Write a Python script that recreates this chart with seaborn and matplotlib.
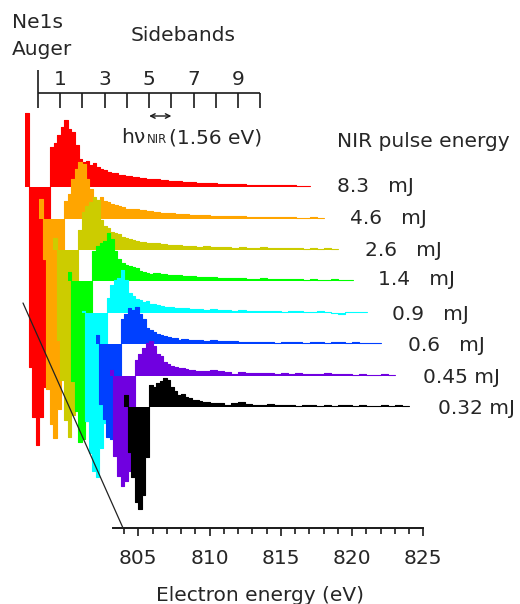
import numpy as np
import matplotlib
matplotlib.use("Agg")
import matplotlib.pyplot as plt
from matplotlib.ticker import FixedLocator
import seaborn as sns

# ---------------- data ----------------
pulse_labels = ["0.32 mJ", "0.45 mJ", "0.6   mJ", "0.9   mJ",
                "1.4   mJ", "2.6   mJ", "4.6   mJ", "8.3   mJ"]
colors = ["#000000", "#7000E0", "#0040FF", "#00FFFF",
          "#00FF00", "#CCCC00", "#FFA500", "#FF0000"]

# relative energy bin edges (eV) of each spectrum
bin_edges_rel = np.concatenate([np.arange(0, 6, 0.25), np.arange(6, 20.001, 0.5)])

s032 = [12, -45, -70, -95, -102, -88, -50, 22, 20, 24, 26, 29, 27, 20, 16, 12, 13, 10, 9, 7, 7, 6, 5, 5,
        4, 4, 2, 4, 5, 3, 2, 2, 3, 2, 2, 2, 1, 2, 2, 1, 2, 1, 2, 2, 1, 2, 1, 1, 2, 1, 2, 1]
s045 = [6, -80, -100, -110, -105, -95, -60, 16, 22, 28, 33, 35, 30, 22, 20, 14, 12, 10, 9, 8, 8, 7, 6, 6,
        5, 5, 6, 5, 4, 2, 4, 3, 3, 3, 3, 2, 3, 2, 3, 2, 2, 2, 3, 2, 2, 2, 1, 2, 1, 1, 2, 1]
s06 = [9, -60, -75, -93, -95, -90, -60, 25, 30, 36, 34, 37, 30, 25, 16, 14, 12, 10, 9, 8, 7, 6, 6, 4,
       5, 4, 4, 3, 4, 3, 3, 3, 2, 2, 2, 2, 2, 1, 2, 2, 2, 1, 2, 2, 1, 2, 2, 1, 2, 1, 1, 1]
s09 = [2, -108, -140, -158, -164, -135, -110, 15, 28, 33, 35, 43, 33, 20, 17, 14, 13, 11, 12, 9, 9, 8, 7, 6,
       6, 5, 5, 4, 4, 3, 4, 3, 3, 2, 3, 2, 2, 2, 2, 2, 1, 2, 2, 1, 1, 2, 1, 0, -1, 1, 1, 1]
s14 = [9, -100, -130, -161, -158, -140, -110, 30, 35, 38, 40, 48, 42, 30, 22, 18, 16, 15, 14, 13, 10, 9, 8, 7,
       8, 7, 6, 6, 5, 5, 4, 4, 4, 3, 3, 3, 3, 2, 2, 3, 2, 2, 2, 2, 2, 1, 2, 1, 1, 2, 1, 1]
s26 = [12, -90, -130, -170, -187, -165, -130, 20, 38, 44, 48, 53, 50, 30, 24, 22, 18, 17, 16, 13, 12, 11, 10, 9,
       8, 7, 7, 6, 5, 5, 4, 4, 3, 4, 3, 3, 3, 2, 3, 2, 2, 3, 2, 2, 2, 2, 2, 1, 2, 1, 2, 1]
s46 = [20, -40, -170, -205, -219, -190, -150, 18, 25, 40, 50, 57, 55, 40, 30, 20, 19, 22, 18, 17, 15, 14, 13, 12,
       10, 10, 9, 8, 7, 6, 6, 5, 5, 4, 4, 4, 3, 3, 3, 3, 3, 2, 2, 2, 2, 2, 2, 2, 1, 1, 2, 1]
s83 = [74, -180, -230, -258, -230, -200, -150, 40, 44, 52, 60, 67, 58, 55, 42, 28, 25, 26, 22, 24, 20, 18, 17, 15,
       14, 12, 11, 10, 9, 8, 8, 7, 6, 6, 5, 5, 4, 4, 4, 3, 3, 3, 3, 2, 2, 2, 2, 2, 2, 2, 1, 1]
spectra = [s032, s045, s06, s09, s14, s26, s46, s83]

sideband_labels = ["1", "3", "5", "7", "9"]
photon_energy = 1.56  # eV

E_START = 804.0   # start of the lowest spectrum (eV)
DX = -0.992       # waterfall shift per spectrum (eV)
DY = 31.4         # waterfall shift per spectrum (intensity units)

# ---------------- layout helpers (pixel -> data) ----------------
W, H = 520, 604
PX_PER_EV = 14.25
def dxp(px):
    return 805 + (px - 138.3) / PX_PER_EV
def dyp(py):
    return 407 - py

sns.set_theme(style="white")
plt.rcParams["font.family"] = ["DejaVu Sans"]
FS = 14.5

fig = plt.figure(figsize=(W / 100, H / 100), dpi=100)
ax = fig.add_axes([0, 0, 1, 1])
ax.set_xlim(dxp(0), dxp(W))
ax.set_ylim(dyp(H), dyp(0))
ax.patch.set_alpha(0)

for k, (vals, c) in enumerate(zip(spectra, colors)):
    x = E_START + DX * k + bin_edges_rel
    base = DY * k
    y = base + np.append(vals, vals[-1])
    ax.fill_between(x, base, y, step="post", color=c, lw=0, zorder=10 - k)
    sns.lineplot(x=x, y=y, drawstyle="steps-post", color=c, lw=0.8,
                 zorder=10 - k, ax=ax)

# pulse energy labels
label_pos = [(438, 414), (423, 383), (408, 351), (392, 320),
             (378, 285), (365, 256), (350, 224), (337, 192)]
for lab, (px, py) in zip(pulse_labels, label_pos):
    ax.text(dxp(px), dyp(py), lab, ha="left", va="baseline", fontsize=FS)
ax.text(dxp(337), dyp(147), "NIR pulse energy", ha="left", va="baseline", fontsize=FS)

# sideband scale
sb0 = dxp(38)
sb_ticks = sb0 + photon_energy * np.arange(11)
ax.plot([sb_ticks[0], sb_ticks[-1]], [dyp(93), dyp(93)], color="k", lw=1.2,
        solid_capstyle="butt", zorder=20)
ax.vlines(sb_ticks, dyp(108), dyp(93), color="k", lw=1.2, zorder=20)
ax.vlines([sb_ticks[0]], dyp(93), dyp(70), color="k", lw=1.2, zorder=20)
for i, lab in enumerate(sideband_labels):
    ax.text(sb_ticks[2 * i + 1], dyp(85), lab, ha="center", va="baseline", fontsize=FS)
ax.text(dxp(131), dyp(41), "Sidebands", ha="left", va="baseline", fontsize=FS)
ax.text(dxp(12), dyp(28), "Ne1s", ha="left", va="baseline", fontsize=FS)
ax.text(dxp(12), dyp(55), "Auger", ha="left", va="baseline", fontsize=FS)
ax.annotate("", xy=(sb_ticks[6], dyp(116)), xytext=(sb_ticks[5], dyp(116)),
            arrowprops=dict(arrowstyle="<->", lw=1.0, color="k",
                            shrinkA=0, shrinkB=0, mutation_scale=8))
ax.text(dxp(121), dyp(143), "hν", ha="left", va="baseline", fontsize=FS)
ax.text(dxp(147), dyp(143), "NIR", ha="left", va="baseline", fontsize=8.5)
ax.text(dxp(169), dyp(143), "(1.56 eV)", ha="left", va="baseline", fontsize=FS)

# perspective line
ax.plot([dxp(23), dxp(123)], [dyp(303), dyp(528)], color="#222222", lw=0.9, zorder=20)

# bottom energy axis
for s in ["left", "right", "top"]:
    ax.spines[s].set_visible(False)
ax.spines["bottom"].set_visible(True)
ax.spines["bottom"].set_color("k")
ax.spines["bottom"].set_linewidth(1.4)
ax.spines["bottom"].set_position(("data", dyp(528)))
ax.spines["bottom"].set_bounds(dxp(113), 825)
ax.xaxis.set_major_locator(FixedLocator([805, 810, 815, 820, 825]))
ax.xaxis.set_minor_locator(FixedLocator([v for v in range(804, 825) if v % 5 != 0]))
ax.tick_params(axis="x", which="major", direction="out", length=5.5, width=1.2,
               color="k", labelsize=FS, pad=9.8, bottom=True)
ax.tick_params(axis="x", which="minor", direction="out", length=4, width=1.2,
               color="k", bottom=True)
ax.set_yticks([])
ax.set_xlabel("Electron energy (eV)", fontsize=FS, labelpad=13)
ax.grid(False)

fig.savefig("out.png", dpi=100)
